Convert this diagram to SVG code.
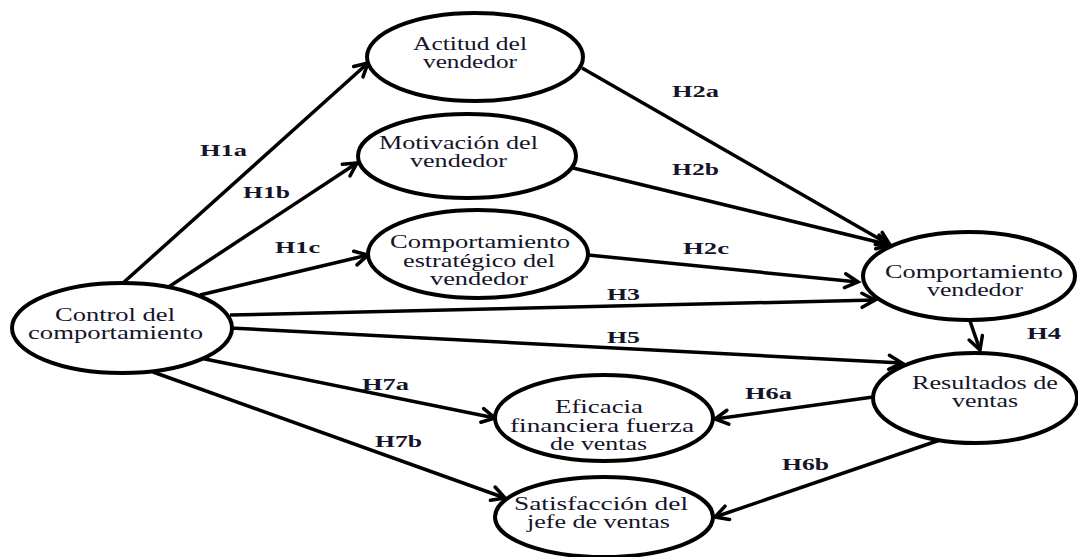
<svg xmlns="http://www.w3.org/2000/svg" width="1078" height="557" viewBox="0 0 1078 557">
<defs>
<marker id="arr" markerUnits="userSpaceOnUse" markerWidth="20" markerHeight="20" viewBox="0 0 20 20" refX="16" refY="10" orient="auto">
<path d="M3,3 L16,10 L3,17" fill="none" stroke="#000" stroke-width="3.5" stroke-linecap="round" stroke-linejoin="miter"/>
</marker>
<style>
.n ellipse{fill:#fff;stroke:#000;stroke-width:4}
.n text{font-family:"Liberation Serif","Times New Roman",serif;font-size:18px;fill:#14142a;text-anchor:middle}
.c line{stroke:#000;stroke-width:3.5;marker-end:url(#arr)}
.l text{font-family:"Liberation Serif","Times New Roman",serif;font-size:17px;font-weight:bold;fill:#14142a}
</style>
</defs>
<rect width="1078" height="557" fill="#fff"/>
<g id="connectors" class="c">
<line x1="123" y1="283" x2="368" y2="63"/>
<line x1="167" y1="288" x2="357" y2="163"/>
<line x1="200" y1="295" x2="368" y2="255"/>
<line x1="230" y1="315" x2="875" y2="300"/>
<line x1="230" y1="328" x2="902" y2="363"/>
<line x1="200" y1="358" x2="495" y2="418"/>
<line x1="153" y1="372" x2="505" y2="498"/>
<line x1="582" y1="68" x2="890" y2="245"/>
<line x1="573" y1="168" x2="890" y2="245"/>
<line x1="588" y1="255" x2="858" y2="282"/>
<line x1="970" y1="321" x2="980" y2="350"/>
<line x1="873" y1="397" x2="715" y2="419"/>
<line x1="940" y1="440" x2="715" y2="517"/>
</g>
<g id="n-control" class="n">
<ellipse cx="122" cy="328" rx="110" ry="45"/>
<text x="115" y="321" textLength="120" lengthAdjust="spacingAndGlyphs">Control del</text>
<text x="115.5" y="339" textLength="175" lengthAdjust="spacingAndGlyphs">comportamiento</text>
</g>
<g id="n-actitud" class="n">
<ellipse cx="475" cy="57" rx="108" ry="44"/>
<text x="470" y="50" textLength="114" lengthAdjust="spacingAndGlyphs">Actitud del</text>
<text x="470" y="68" textLength="94" lengthAdjust="spacingAndGlyphs">vendedor</text>
</g>
<g id="n-motivacion" class="n">
<ellipse cx="467" cy="156" rx="109" ry="42"/>
<text x="458.5" y="149" textLength="159" lengthAdjust="spacingAndGlyphs">Motivación del</text>
<text x="458.5" y="167" textLength="97" lengthAdjust="spacingAndGlyphs">vendedor</text>
</g>
<g id="n-estrategico" class="n">
<ellipse cx="478" cy="254" rx="110" ry="44"/>
<text x="480" y="248" textLength="180" lengthAdjust="spacingAndGlyphs">Comportamiento</text>
<text x="479" y="267" textLength="152" lengthAdjust="spacingAndGlyphs">estratégico del</text>
<text x="479" y="285" textLength="98" lengthAdjust="spacingAndGlyphs">vendedor</text>
</g>
<g id="n-comportamiento" class="n">
<ellipse cx="969" cy="276" rx="106" ry="44"/>
<text x="974" y="278" textLength="178" lengthAdjust="spacingAndGlyphs">Comportamiento</text>
<text x="975" y="296" textLength="96" lengthAdjust="spacingAndGlyphs">vendedor</text>
</g>
<g id="n-resultados" class="n">
<ellipse cx="975" cy="398" rx="102" ry="45"/>
<text x="985" y="389" textLength="146" lengthAdjust="spacingAndGlyphs">Resultados de</text>
<text x="985" y="407" textLength="66" lengthAdjust="spacingAndGlyphs">ventas</text>
</g>
<g id="n-eficacia" class="n">
<ellipse cx="604" cy="418" rx="109" ry="43"/>
<text x="599" y="413" textLength="88" lengthAdjust="spacingAndGlyphs">Eficacia</text>
<text x="602" y="432" textLength="184" lengthAdjust="spacingAndGlyphs">financiera fuerza</text>
<text x="598.5" y="450" textLength="97" lengthAdjust="spacingAndGlyphs">de ventas</text>
</g>
<g id="n-satisfaccion" class="n">
<ellipse cx="604" cy="517" rx="109" ry="40"/>
<text x="601" y="510" textLength="174" lengthAdjust="spacingAndGlyphs">Satisfacción del</text>
<text x="598.5" y="528" textLength="143" lengthAdjust="spacingAndGlyphs">jefe de ventas</text>
</g>
<g id="labels" class="l">
<text x="200" y="156" textLength="47" lengthAdjust="spacingAndGlyphs">H1a</text>
<text x="243" y="198" textLength="47" lengthAdjust="spacingAndGlyphs">H1b</text>
<text x="275" y="253" textLength="45" lengthAdjust="spacingAndGlyphs">H1c</text>
<text x="672" y="97" textLength="47" lengthAdjust="spacingAndGlyphs">H2a</text>
<text x="672" y="175" textLength="47" lengthAdjust="spacingAndGlyphs">H2b</text>
<text x="683" y="254" textLength="46" lengthAdjust="spacingAndGlyphs">H2c</text>
<text x="607" y="300" textLength="33" lengthAdjust="spacingAndGlyphs">H3</text>
<text x="1027" y="339" textLength="34" lengthAdjust="spacingAndGlyphs">H4</text>
<text x="607" y="343" textLength="33" lengthAdjust="spacingAndGlyphs">H5</text>
<text x="745" y="399" textLength="47" lengthAdjust="spacingAndGlyphs">H6a</text>
<text x="782" y="470" textLength="47" lengthAdjust="spacingAndGlyphs">H6b</text>
<text x="362" y="390" textLength="47" lengthAdjust="spacingAndGlyphs">H7a</text>
<text x="375" y="447" textLength="47" lengthAdjust="spacingAndGlyphs">H7b</text>
</g>
</svg>
